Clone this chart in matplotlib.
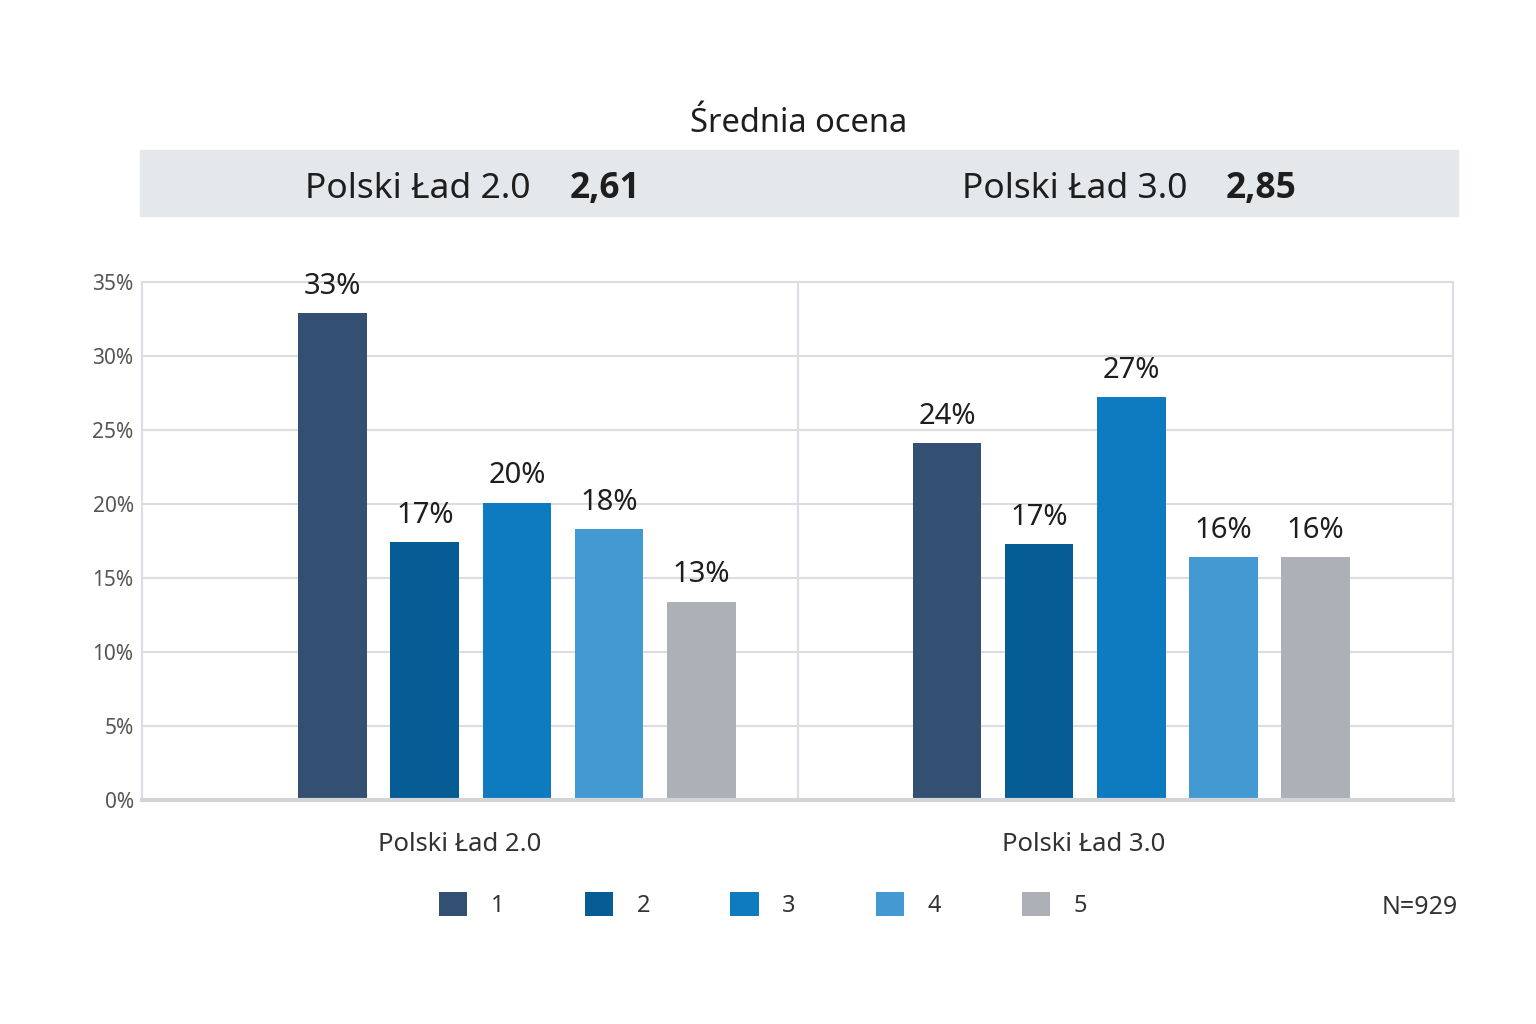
import matplotlib
matplotlib.use("Agg")
import matplotlib.pyplot as plt
from matplotlib.patches import Patch, Rectangle

plt.rcParams['font.family'] = ['Noto Sans', 'DejaVu Sans']

# data
groups = ['Polski Ład 2.0', 'Polski Ład 3.0']
grades = ['1', '2', '3', '4', '5']
pl20 = [32.9, 17.4, 20.1, 18.3, 13.4]
pl30 = [24.1, 17.3, 27.2, 16.4, 16.4]
srednia = ['2,61', '2,85']
n_label = 'N=929'
colors = ['#334f71', '#065d95', '#0e7abf', '#439ad2', '#aeb0b7']

W, H = 1536, 1024
fig = plt.figure(figsize=(W / 100, H / 100), dpi=100)

# layout (pixels of the reference)
ax = fig.add_axes([142 / W, 1 - 800 / H, 1311 / W, 518 / H])
bar_centre = [0.572, 1.509]
label_pos = [0.484, 1.436]
step = 0.1405
width = 0.105
grid_col = '#dcdce2'

for g, vals in enumerate([pl20, pl30]):
    for i, v in enumerate(vals):
        x = bar_centre[g] + (i - 2) * step
        ax.bar(x, v, width=width, color=colors[i], zorder=3)
        ax.annotate(f'{round(v)}%', (x, v), xytext=(0, 14), textcoords='offset points',
                    ha='center', va='baseline', fontsize=21, color='#1e1e1e', zorder=4)

ax.set_xlim(0, 2)
ax.set_ylim(0, 35)
ax.set_yticks(range(0, 36, 5))
ax.set_yticklabels([f'{t}%' for t in range(0, 36, 5)], fontsize=15, color='#555555')
ax.set_xticks(label_pos)
ax.set_xticklabels(groups, fontsize=18.5, color='#333333')
ax.tick_params(axis='both', length=0)
ax.tick_params(axis='y', pad=6)
ax.tick_params(axis='x', pad=23)
ax.grid(axis='y', color=grid_col, linewidth=1.5, zorder=0)
ax.axvline(1, color=grid_col, linewidth=1.5, zorder=1)
for s in ['left', 'right', 'top']:
    ax.spines[s].set_color(grid_col)
    ax.spines[s].set_linewidth(1.5)
ax.spines['bottom'].set_color('#d3d4da')
ax.spines['bottom'].set_linewidth(3)
ax.spines['bottom'].set_zorder(5)

# header band with averages
fig.patches.append(Rectangle((140 / W, 1 - 216 / H), 1318 / W, 66 / H,
                             transform=fig.transFigure, color='#e5e8eb', zorder=0))
fig.text(799 / W, 1 - 132 / H, 'Średnia ocena', ha='center', va='baseline',
         fontsize=23.5, color='#1e1e1e')
name_right = [531, 1188]
val_left = [570, 1226]
for g in range(2):
    fig.text(name_right[g] / W, 1 - 198 / H, groups[g], ha='right', va='baseline',
             fontsize=25.5, color='#1e1e1e')
    fig.text(val_left[g] / W, 1 - 198 / H, srednia[g], ha='left', va='baseline',
             fontsize=25.5, fontweight='bold', family=['Open Sans', 'DejaVu Sans'],
             color='#1e1e1e')

handles = [Patch(facecolor=c, edgecolor='none') for c in colors]
fig.legend(handles, grades, loc='center', bbox_to_anchor=(763 / W, 1 - 905 / H),
           ncol=5, frameon=False, fontsize=17, handlelength=1.2, handleheight=1.2,
           handletextpad=1.0, columnspacing=3.4, labelcolor='#333333')

fig.text(1458 / W, 1 - 914 / H, n_label, ha='right', va='baseline', fontsize=18,
         color='#333333')

fig.savefig('out.png', dpi=100, facecolor='white')
